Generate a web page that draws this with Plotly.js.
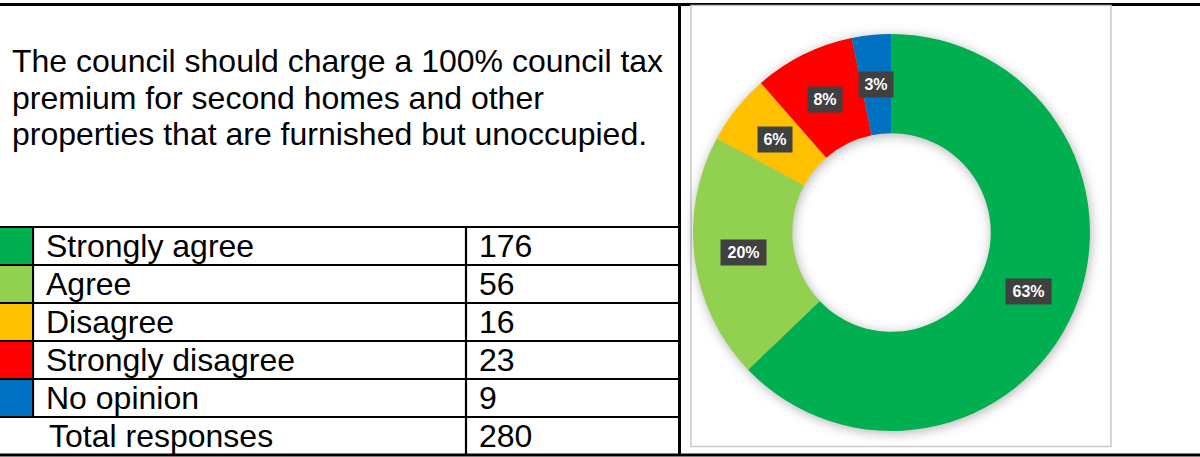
<!DOCTYPE html>
<html>
<head>
<meta charset="utf-8">
<script src="https://cdn.plot.ly/plotly-3.0.1.min.js"></script>
<style>
  html, body { margin: 0; padding: 0; background: #ffffff; }
  #chart { width: 1200px; height: 457px; }
  .pielayer .trace { filter: drop-shadow(1px 2px 6px rgba(0,0,0,0.30)); }
</style>
</head>
<body>
<div id="chart"></div>
<script>
// ---- data ----
const categories = ['Strongly agree', 'Agree', 'Disagree', 'Strongly disagree', 'No opinion'];
const responses = [176, 56, 16, 23, 9];
const sliceColors = ['#00B050', '#92D050', '#FFC000', '#FF0000', '#0070C0'];
const totalLabel = 'Total responses';
const questionLines = [
  'The council should charge a 100% council tax',
  'premium for second homes and other',
  'properties that are furnished but unoccupied.'
];

// ---- layout constants (pixels) ----
const W = 1200, H = 457;
const FONT = 'Liberation Sans, Arial, sans-serif';
const TXT = 32;
const rowTop = 227, rowH = 38;
const cx = 891.5, cy = 232.5, R = 198.5, HOLE = 0.5;

const total = responses.reduce((a, b) => a + b, 0);

const shapes = [];
const annotations = [];
const black = '#000000';

// frame / border lines
shapes.push({type: 'line', xref: 'x', yref: 'y', x0: 0, x1: W, y0: 4.5, y1: 4.5, line: {color: black, width: 3}, layer: 'below'});
shapes.push({type: 'line', xref: 'x', yref: 'y', x0: 0, x1: W, y0: 455, y1: 455, line: {color: black, width: 3}, layer: 'below'});
shapes.push({type: 'line', xref: 'x', yref: 'y', x0: 679.5, x1: 679.5, y0: 4.5, y1: 455, line: {color: black, width: 3}, layer: 'below'});

const nRows = categories.length + 1;
for (let i = 0; i < nRows; i++) {
  const y = rowTop + i * rowH;
  shapes.push({type: 'line', xref: 'x', yref: 'y', x0: 0, x1: 680, y0: y, y1: y, line: {color: black, width: 2.2}, layer: 'below'});
}
// column dividers
shapes.push({type: 'line', xref: 'x', yref: 'y', x0: 33, x1: 33, y0: rowTop, y1: rowTop + categories.length * rowH, line: {color: black, width: 2.2}, layer: 'below'});
shapes.push({type: 'line', xref: 'x', yref: 'y', x0: 466, x1: 466, y0: rowTop, y1: 455, line: {color: black, width: 2.2}, layer: 'below'});

// swatches + row texts
categories.forEach((c, i) => {
  const yT = rowTop + i * rowH;
  shapes.push({type: 'rect', xref: 'x', yref: 'y', x0: 0, x1: 32, y0: yT + 1, y1: yT + rowH - 1,
    fillcolor: sliceColors[i], line: {width: 0}, layer: 'below'});
  annotations.push({xref: 'x', yref: 'y', x: 44, y: yT + rowH / 2, xanchor: 'left', yanchor: 'middle',
    text: c, showarrow: false, font: {family: FONT, size: TXT, color: '#000'}});
  annotations.push({xref: 'x', yref: 'y', x: 477, y: yT + rowH / 2, xanchor: 'left', yanchor: 'middle',
    text: String(responses[i]), showarrow: false, font: {family: FONT, size: TXT, color: '#000'}});
});
{
  const yT = rowTop + categories.length * rowH;
  annotations.push({xref: 'x', yref: 'y', x: 47, y: yT + rowH / 2, xanchor: 'left', yanchor: 'middle',
    text: totalLabel, showarrow: false, font: {family: FONT, size: TXT, color: '#000'}});
  annotations.push({xref: 'x', yref: 'y', x: 477, y: yT + rowH / 2, xanchor: 'left', yanchor: 'middle',
    text: String(total), showarrow: false, font: {family: FONT, size: TXT, color: '#000'}});
}

// question text
questionLines.forEach((t, i) => {
  annotations.push({xref: 'x', yref: 'y', x: 10, y: 61 + i * 36.5, xanchor: 'left', yanchor: 'middle',
    text: t, showarrow: false, font: {family: FONT, size: TXT, color: '#000'}});
});

// chart frame
shapes.push({type: 'rect', xref: 'x', yref: 'y', x0: 691, x1: 1111, y0: 5.5, y1: 446.5,
  fillcolor: '#ffffff', line: {color: '#c9c9c9', width: 1.5}, layer: 'below'});

// percentage labels at the middle of each slice (clockwise from 12 o'clock)
let cum = 0;
const rMid = R * (1 + HOLE) / 2;
responses.forEach((v, i) => {
  const frac = (cum + v / 2) / total;
  cum += v;
  const th = 2 * Math.PI * frac;
  const label = Math.round(v / total * 100) + '%';
  annotations.push({xref: 'x', yref: 'y', x: cx + rMid * Math.sin(th), y: cy - rMid * Math.cos(th),
    xanchor: 'center', yanchor: 'middle', showarrow: false, text: '<b>' + label + '</b>',
    font: {family: FONT, size: 16, color: '#ffffff'}, bgcolor: '#404040',
    width: 10 + 11 * label.length, height: 23});
});

const data = [{
  type: 'pie',
  labels: categories,
  values: responses,
  sort: false,
  direction: 'clockwise',
  rotation: 0,
  hole: HOLE,
  marker: {colors: sliceColors, line: {width: 0}},
  textinfo: 'none',
  hoverinfo: 'none',
  showlegend: false,
  domain: {x: [(cx - R) / W, (cx + R) / W], y: [1 - (cy + R) / H, 1 - (cy - R) / H]}
}];

const layout = {
  width: W, height: H,
  margin: {l: 0, r: 0, t: 0, b: 0, pad: 0},
  paper_bgcolor: '#ffffff', plot_bgcolor: 'rgba(0,0,0,0)',
  showlegend: false,
  xaxis: {range: [0, W], visible: false, fixedrange: true},
  yaxis: {range: [H, 0], visible: false, fixedrange: true},
  shapes: shapes,
  annotations: annotations
};

Plotly.newPlot('chart', data, layout, {staticPlot: true, displayModeBar: false});
</script>
</body>
</html>
